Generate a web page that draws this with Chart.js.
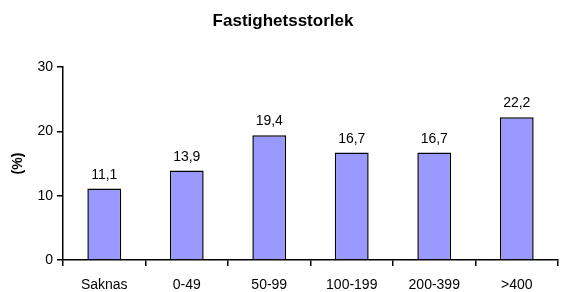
<!DOCTYPE html>
<html><head><meta charset="utf-8">
<script src="https://cdn.jsdelivr.net/npm/chart.js@4"></script>
<style>html,body{margin:0;padding:0;background:#fff}#wrap{width:562px;height:292px}</style>
</head><body><div id="wrap"><canvas id="c" width="562" height="292"></canvas></div>
<script>
const categories = ["Saknas", "0-49", "50-99", "100-199", "200-399", ">400"];
const values = [11.1, 13.9, 19.4, 16.7, 16.7, 22.2];
const yTicks = [0, 10, 20, 30];
const chartTitle = "Fastighetsstorlek";
const yTitle = "(%)";

const FONT = "'Liberation Sans', Arial, sans-serif";
const labelPlugin = {
  id: 'valLabels',
  afterDatasetsDraw(chart) {
    const ctx = chart.ctx;
    const meta = chart.getDatasetMeta(0);
    ctx.save();
    ctx.font = "14px " + FONT;
    ctx.fillStyle = "#000";
    ctx.textAlign = "center";
    ctx.textBaseline = "alphabetic";
    meta.data.forEach((bar, i) => {
      ctx.fillText(String(values[i]).replace('.', ','), bar.x, bar.y - 10);
    });
    ctx.restore();
  }
};

new Chart(document.getElementById('c'), {
  type: 'bar',
  data: {
    labels: categories,
    datasets: [{
      data: values,
      backgroundColor: '#9999FF',
      borderColor: '#000000',
      borderWidth: 1.5,
      categoryPercentage: 1,
      barPercentage: 0.41
    }]
  },
  options: {
    responsive: false,
    animation: false,
    layout: { padding: { left: 8, right: 4, top: 0, bottom: 0 } },
    plugins: {
      legend: { display: false },
      tooltip: { enabled: false },
      title: {
        display: true, text: chartTitle, color: '#000',
        font: { family: FONT, size: 17, weight: 'bold' },
        padding: { top: 11, bottom: 35.6 }
      }
    },
    scales: {
      x: {
        afterFit(scale) { scale.height = 32; },
        grid: { drawOnChartArea: false, drawTicks: true, tickLength: 6, color: '#000', offset: true, lineWidth: 1.5 },
        border: { display: true, color: '#000', width: 1.5 },
        ticks: { color: '#000', font: { family: FONT, size: 14 }, padding: 11, maxRotation: 0 }
      },
      y: {
        min: 0, max: 30,
        afterFit(scale) { scale.width = 55; },
        afterBuildTicks(scale) { scale.ticks = yTicks.map(v => ({ value: v })); },
        grid: { drawOnChartArea: false, drawTicks: true, tickLength: 6, color: '#000', lineWidth: 1.5 },
        border: { display: true, color: '#000', width: 1.5 },
        ticks: { color: '#000', font: { family: FONT, size: 14 }, padding: 4 },
        title: { display: true, text: yTitle, color: '#000', font: { family: FONT, size: 14, weight: 'bold' }, padding: { top: 2, bottom: 10 } }
      }
    }
  },
  plugins: [labelPlugin]
});
</script></body></html>
